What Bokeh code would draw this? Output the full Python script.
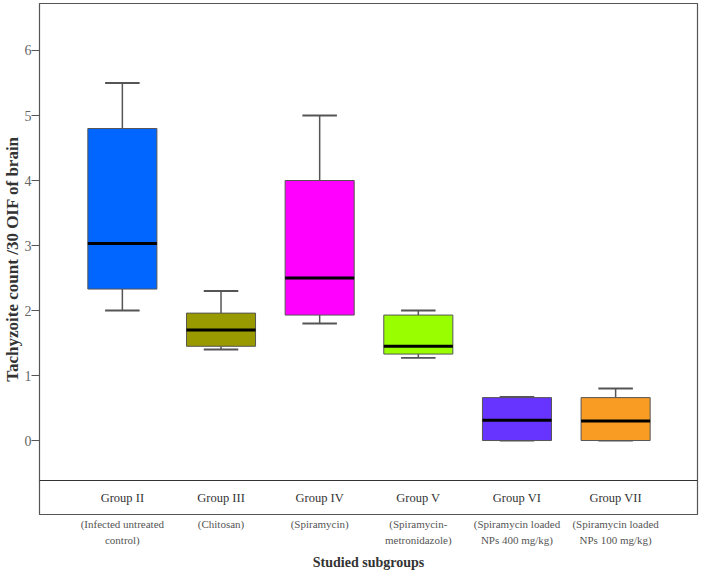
from bokeh.plotting import figure
from bokeh.models import Range1d, FixedTicker, Span, ColumnDataSource, Title
from bokeh.core.properties import value
from bokeh.embed import file_html
from bokeh.resources import INLINE
import numpy as np

groups = ["Group II", "Group III", "Group IV", "Group V", "Group VI", "Group VII"]
sublabels = ["(Infected untreated\ncontrol)", "(Chitosan)", "(Spiramycin)",
             "(Spiramycin-\nmetronidazole)", "(Spiramycin loaded\nNPs 400 mg/kg)",
             "(Spiramycin loaded\nNPs 100 mg/kg)"]
lower = [2.0, 1.40, 1.80, 1.27, 0.0, 0.0]
q1 = [2.33, 1.45, 1.93, 1.33, 0.0, 0.0]
median = [3.03, 1.70, 2.50, 1.45, 0.31, 0.30]
q3 = [4.80, 1.96, 4.00, 1.93, 0.66, 0.66]
upper = [5.50, 2.30, 5.00, 2.00, 0.67, 0.80]
colors = ["#0066FF", "#999900", "#FF00FF", "#99FF00", "#6633FF", "#F89C23"]
y_ticks = [0, 1, 2, 3, 4, 5, 6]

SERIF = "Liberation Serif"
x = np.arange(1, len(groups) + 1, dtype=float)
BOXW = 0.70
CAPW = 0.35
Y_TOP = 6.723
Y_BOT = -1.138
Y_SEP = -0.615

src = ColumnDataSource(dict(
    x=x, lower=lower, q1=q1, median=median, q3=q3, upper=upper, color=colors,
    cap0=x - CAPW / 2, cap1=x + CAPW / 2, med0=x - BOXW / 2, med1=x + BOXW / 2,
    group=groups,
))

p = figure(frame_width=658, frame_height=511, output_backend="svg", toolbar_location=None,
           x_range=Range1d(0.16, 6.83), y_range=Range1d(Y_BOT, Y_TOP),
           min_border_top=3, min_border_right=8, min_border_left=0, min_border_bottom=0)

p.xgrid.visible = False
p.ygrid.visible = False
p.outline_line_color = "#555555"
p.outline_line_width = 1.2
p.background_fill_color = "white"
p.border_fill_color = "white"

# whiskers
p.segment(x0="x", y0="q3", x1="x", y1="upper", source=src, line_color="#555555", line_width=1.5)
p.segment(x0="x", y0="q1", x1="x", y1="lower", source=src, line_color="#555555", line_width=1.5)
p.segment(x0="cap0", y0="upper", x1="cap1", y1="upper", source=src, line_color="#555555", line_width=1.8)
p.segment(x0="cap0", y0="lower", x1="cap1", y1="lower", source=src, line_color="#555555", line_width=1.8)
# boxes
p.vbar(x="x", width=BOXW, bottom="q1", top="q3", source=src, fill_color="color",
       line_color="#555555", line_width=1)
# medians
p.segment(x0="med0", y0="median", x1="med1", y1="median", source=src, line_color="black", line_width=3)

# category box separator and labels
p.add_layout(Span(location=Y_SEP, dimension="width", line_color="#333333", line_width=1.2))
p.text(x="x", y=(Y_SEP + Y_BOT) / 2, text="group", source=src, text_align="center",
       text_baseline="middle", text_font=value(SERIF), text_font_size="12.5px",
       text_color="#333333")

# y axis
p.yaxis.ticker = FixedTicker(ticks=y_ticks)
p.yaxis.minor_tick_line_color = None
p.yaxis.major_tick_in = 0
p.yaxis.major_tick_out = 8
p.yaxis.major_tick_line_color = "#555555"
p.yaxis.axis_line_color = "#555555"
p.yaxis.major_label_standoff = 0
p.yaxis.major_label_text_font = SERIF
p.yaxis.major_label_text_font_size = "14px"
p.yaxis.major_label_text_color = "#666666"

# y axis title as a left-side title (shifted up to centre on the plotting area)
p.add_layout(Title(text="Tachyzoite count /30 OIF of brain", align="center", offset=-12,
                   standoff=0, text_font=SERIF, text_font_style="bold",
                   text_font_size="17px", text_color="#333333"), "left")

# x axis (sub labels)
p.xaxis.ticker = FixedTicker(ticks=list(x))
p.xaxis.major_label_overrides = {float(v): s for v, s in zip(x, sublabels)}
p.xaxis.major_label_overrides.update({int(v): s for v, s in zip(x, sublabels)})
p.xaxis.axis_line_color = None
p.xaxis.major_tick_line_color = None
p.xaxis.minor_tick_line_color = None
p.xaxis.major_tick_in = 0
p.xaxis.major_tick_out = 0
p.xaxis.major_label_standoff = 3
p.xaxis.major_label_text_font = SERIF
p.xaxis.major_label_text_font_size = "11px"
p.xaxis.major_label_text_line_height = 1.35
p.xaxis.major_label_text_color = "#555555"
p.xaxis.axis_label = "Studied subgroups"
p.xaxis.axis_label_text_font = SERIF
p.xaxis.axis_label_text_font_style = "bold"
p.xaxis.axis_label_text_font_size = "14px"
p.xaxis.axis_label_text_color = "#333333"
p.xaxis.axis_label_standoff = 6

open("out.html", "w").write(file_html(p, INLINE))
